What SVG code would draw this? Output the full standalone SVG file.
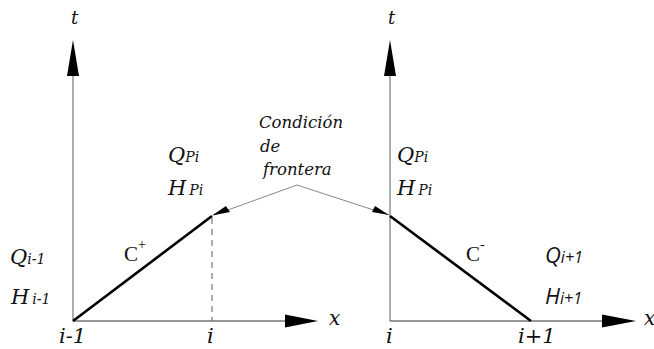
<svg xmlns="http://www.w3.org/2000/svg" width="654" height="349" viewBox="0 0 654 349">
<defs>
<style>
.ax{stroke:#999;stroke-width:1.6;fill:none}
.axh{stroke:#333;stroke-width:1.2;fill:none}
.ch{stroke:#000;stroke-width:2.6;fill:none}
.bc{stroke:#888;stroke-width:1;fill:none}
.dash{stroke:#777;stroke-width:1.2;stroke-dasharray:6,5;fill:none}
.sn{font-family:"Open Sans","DejaVu Sans",sans-serif;font-style:italic;fill:#111}
.dv{font-family:"DejaVu Serif",serif;font-style:italic;fill:#111}
.rm{font-family:"Liberation Serif",serif;fill:#111}
</style>
</defs>
<g id="axes">
<line class="ax" x1="73" y1="321" x2="73" y2="76"/>
<polygon points="73,40 67,76 79,76" fill="#000"/>
<line class="axh" x1="73" y1="321" x2="286" y2="321"/>
<polygon points="318,321 285,314.5 285,327.5" fill="#000"/>
<line class="ax" x1="390" y1="321" x2="390" y2="76"/>
<polygon points="390,40 384,76 396,76" fill="#000"/>
<line class="axh" x1="390" y1="321" x2="603" y2="321"/>
<polygon points="636,321 602,314.5 602,327.5" fill="#000"/>
</g>
<g id="connectors">
<line class="ch" x1="73" y1="321" x2="212" y2="216"/>
<line class="ch" x1="390" y1="216" x2="531" y2="321"/>
<line class="dash" x1="212" y1="218" x2="212" y2="321"/>
<polyline class="bc" points="297,185 214,215"/>
<polyline class="bc" points="297,185 389,215"/>
<polygon points="212,215.5 226,206 230,212" fill="#000"/>
<polygon points="389,215 372,212 375,206" fill="#000"/>
</g>
<g id="labels">
<text class="dv" x="71" y="24" font-size="18">t</text>
<text class="dv" x="388" y="24" font-size="18">t</text>
<text class="dv" x="259" y="128" font-size="16.5">Condición</text>
<text class="dv" x="260" y="152" font-size="16.5">de</text>
<text class="dv" x="263" y="175" font-size="16.5">frontera</text>
<text class="dv" x="168" y="162" font-size="21">Q<tspan font-size="14">Pi</tspan></text>
<text class="dv" x="168" y="195" font-size="21">H<tspan font-size="14" dx="3">Pi</tspan></text>
<text class="dv" x="397" y="162" font-size="21">Q<tspan font-size="14">Pi</tspan></text>
<text class="dv" x="397" y="195" font-size="21">H<tspan font-size="14" dx="3">Pi</tspan></text>
<text class="dv" x="10" y="264" font-size="21">Q<tspan font-size="14">i-1</tspan></text>
<text class="dv" x="11" y="304" font-size="21">H<tspan font-size="14" dx="3">i-1</tspan></text>
<text class="rm" x="124" y="261" font-size="21">C<tspan font-size="14" dy="-12">+</tspan></text>
<text class="rm" x="466" y="261" font-size="21">C<tspan font-size="14" dy="-12">-</tspan></text>
<text class="sn" x="545" y="263" font-size="22">Q<tspan font-size="16">i+1</tspan></text>
<text class="sn" x="545" y="304" font-size="22">H<tspan font-size="16">i+1</tspan></text>
<text class="dv" x="59" y="343" font-size="21">i-1</text>
<text class="dv" x="207" y="343" font-size="21">i</text>
<text class="dv" x="386" y="343" font-size="21">i</text>
<text class="dv" x="518" y="343" font-size="21">i+1</text>
<text class="dv" x="329" y="325" font-size="20">x</text>
<text class="dv" x="644" y="325" font-size="20">x</text>
</g>
</svg>
